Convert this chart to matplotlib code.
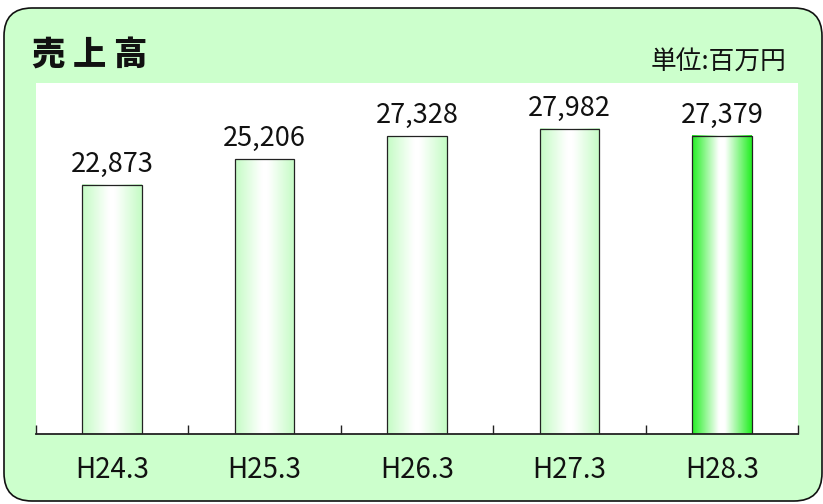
import matplotlib
matplotlib.use('Agg')
import matplotlib.pyplot as plt
import numpy as np
from matplotlib.patches import FancyBboxPatch
from matplotlib.colors import LinearSegmentedColormap

plt.rcParams['font.family'] = ['Noto Sans CJK JP', 'DejaVu Sans']

years = ['H24.3', 'H25.3', 'H26.3', 'H27.3', 'H28.3']
sales = [22873, 25206, 27328, 27982, 27379]

W, H = 823, 504
fig = plt.figure(figsize=(W / 100, H / 100), dpi=100)
fig.patch.set_facecolor('white')

# rounded light green panel behind everything (coords in inches)
panel = FancyBboxPatch((4 / 100, 3 / 100), 818 / 100, 493 / 100,
                       boxstyle='round,pad=0,rounding_size=0.28',
                       transform=fig.dpi_scale_trans,
                       facecolor='#ccffcc', edgecolor='#111111', linewidth=1.2,
                       zorder=0)
fig.add_artist(panel)

ax = fig.add_axes([36 / W, (H - 434) / H, (798 - 36) / W, (434 - 83) / H])
ax.set_facecolor('white')

pale = LinearSegmentedColormap.from_list('pale', [(0, '#c4fcc4'), (0.45, '#ffffff'),
                                                  (0.55, '#ffffff'), (1, '#c4fcc4')])
vivid = LinearSegmentedColormap.from_list('vivid', [(0, '#22ee22'), (0.45, '#ffffff'),
                                                    (0.55, '#ffffff'), (1, '#22ee22')])

bw = 0.39
grad = np.linspace(0, 1, 256).reshape(1, -1)
for i, v in enumerate(sales):
    cmap = vivid if i == len(sales) - 1 else pale
    ax.imshow(grad, cmap=cmap, extent=(i - bw / 2, i + bw / 2, 0, v),
              aspect='auto', zorder=2, interpolation='bilinear')
    ax.bar(i, v, width=bw, facecolor='none', edgecolor='#222222',
           linewidth=0.9, zorder=3)
    ax.annotate(f'{v:,}', (i, v), xytext=(0, 5), textcoords='offset points',
                ha='center', va='bottom', fontsize=19.5, color='#111111')

ax.set_xlim(-0.5, 4.5)
ax.set_ylim(0, 32200)

for s in ['top', 'right', 'left']:
    ax.spines[s].set_visible(False)
ax.spines['bottom'].set_linewidth(1.3)
ax.spines['bottom'].set_color('#222222')
ax.set_yticks([])

# boundary ticks between categories, labels at the centres
ax.set_xticks(np.arange(-0.5, 5, 1))
ax.set_xticklabels([])
ax.tick_params(axis='x', which='major', direction='in', length=6.5, width=1,
               color='#222222')
ax.set_xticks(range(len(years)), minor=True)
ax.set_xticklabels(years, minor=True, fontsize=20, color='#111111')
ax.tick_params(axis='x', which='minor', length=0, pad=15)

fig.text(32 / W, 1 - 54 / H, '売 上 高', fontsize=24, fontweight='heavy',
         ha='left', va='center', color='#111111')
fig.text(787 / W, 1 - 63 / H, '単位:百万円', fontsize=18.5,
         ha='right', va='center', color='#111111')

fig.savefig('out.png', dpi=100)
